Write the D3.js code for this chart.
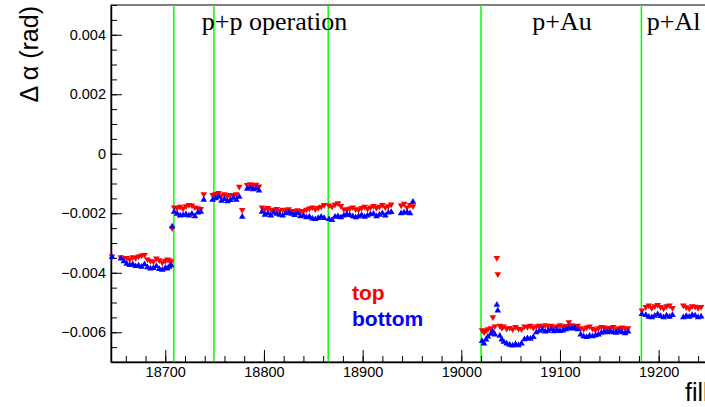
<!DOCTYPE html>
<html>
<head>
<meta charset="utf-8">
<script src="https://cdn.jsdelivr.net/npm/d3@7"></script>
<style>
  html, body { margin: 0; padding: 0; background: #fff; overflow: hidden; }
  svg { display: block; }
</style>
</head>
<body>
<div id="my_dataviz"></div>
<script>
// fill numbers and the two alignment series (values in mrad)
var fills = [
  18646, 18655, 18658, 18661, 18664, 18667, 18670, 18673, 18676, 18679, 18682, 18685, 18688, 18691, 18694, 18697, 18700, 18702, 18704, 18706,
  18707, 18709, 18712, 18715, 18718, 18721, 18724, 18727, 18730, 18733, 18736, 18739,
  18748, 18751, 18754, 18757, 18760, 18763, 18766, 18769, 18772, 18775, 18778, 18783, 18786, 18789, 18792, 18795,
  18798, 18801, 18804, 18807, 18810, 18813, 18816, 18819, 18822, 18825, 18828, 18831, 18834, 18837, 18840, 18843, 18846, 18849, 18852, 18855, 18858, 18861,
  18866, 18869, 18872, 18875, 18878, 18881, 18884, 18887, 18890, 18893, 18896, 18899, 18902, 18905, 18908, 18911, 18914, 18917, 18920, 18923, 18926, 18929,
  18939, 18942, 18945, 18948, 18951,
  19021, 19023, 19025, 19027, 19030, 19032, 19034, 19036, 19037, 19039, 19041, 19043, 19046, 19049, 19052, 19055, 19058, 19061, 19064, 19067, 19070, 19073,
  19076, 19079, 19082, 19085, 19088, 19091, 19094, 19097, 19100, 19103, 19106, 19109, 19112, 19115, 19118, 19121, 19124, 19127, 19130, 19133, 19136, 19139,
  19142, 19145, 19148, 19151, 19154, 19157, 19160, 19163, 19166, 19169,
  19183, 19187, 19190, 19193, 19196, 19199, 19202, 19205, 19208, 19211, 19214, 19225, 19228, 19231, 19234, 19237, 19240, 19243
];
var topAlign = [
  -3.45, -3.48, -3.52, -3.50, -3.55, -3.48, -3.50, -3.45, -3.42, -3.40, -3.55, -3.60, -3.62, -3.52, -3.58, -3.65, -3.60, -3.55, -3.58, -3.62,
  -2.50, -1.80, -1.82, -1.78, -1.84, -1.76, -1.72, -1.74, -1.80, -1.83, -1.85, -1.36,
  -1.38, -1.35, -1.32, -1.40, -1.36, -1.42, -1.38, -1.40, -1.36, -1.11, -1.89, -1.05, -1.02, -1.06, -1.04, -1.10,
  -1.80, -1.86, -1.82, -1.88, -1.90, -1.85, -1.92, -1.88, -1.90, -1.86, -1.92, -1.94, -1.90, -1.95, -1.92, -1.88, -1.84, -1.80, -1.86, -1.82, -1.78, -1.72,
  -1.74, -1.78, -1.70, -1.66, -1.75, -1.86, -1.89, -1.84, -1.80, -1.86, -1.88, -1.82, -1.78, -1.85, -1.80, -1.75, -1.82, -1.78, -1.72, -1.80, -1.76, -1.70,
  -1.74, -1.68, -1.80, -1.72, -1.76,
  -5.93, -6.00, -5.95, -5.90, -5.86, -5.49, -5.80, -3.50, -4.05, -5.78, -5.85, -5.80, -5.88, -5.85, -5.90, -5.82, -5.88, -5.90, -5.80, -5.82, -5.78, -5.85,
  -5.80, -5.78, -5.82, -5.76, -5.80, -5.78, -5.83, -5.80, -5.76, -5.82, -5.79, -5.66, -5.76, -5.80, -5.78, -5.86, -5.90, -5.84, -5.80, -5.88, -5.92, -5.86,
  -5.82, -5.84, -5.88, -5.85, -5.82, -5.90, -5.86, -5.84, -5.88, -5.86,
  -5.27, -5.15, -5.10, -5.18, -5.12, -5.08, -5.15, -5.20, -5.12, -5.10, -5.18, -5.10, -5.16, -5.20, -5.12, -5.14, -5.18, -5.15
];
var bottomAlign = [
  -3.47, -3.52, -3.62, -3.70, -3.74, -3.72, -3.78, -3.76, -3.80, -3.72, -3.82, -3.86, -3.84, -3.78, -3.88, -3.90, -3.84, -3.86, -3.80, -3.75,
  -2.45, -1.95, -2.02, -2.08, -2.06, -2.04, -2.08, -2.02, -2.10, -1.98, -1.95, -1.55,
  -1.55, -1.50, -1.45, -1.58, -1.52, -1.60, -1.56, -1.48, -1.55, -1.45, -2.12, -1.18, -1.14, -1.20, -1.16, -1.24,
  -1.95, -2.05, -2.00, -2.08, -1.98, -2.02, -2.05, -2.08, -2.00, -1.98, -2.02, -2.06, -2.00, -2.10, -2.08, -2.14, -2.12, -2.18, -2.20, -2.16, -2.12, -2.16,
  -2.20, -2.23, -2.12, -2.10, -2.14, -2.08, -2.04, -2.06, -2.10, -2.14, -2.10, -2.06, -2.12, -2.08, -2.04, -2.02, -2.10, -2.05, -2.00, -2.08, -1.98, -1.96,
  -2.00, -1.98, -1.97, -2.00, -1.62,
  -6.30, -6.38, -6.25, -6.15, -6.05, -5.98, -6.08, -5.08, -5.27, -6.12, -6.25, -6.32, -6.38, -6.42, -6.45, -6.40, -6.44, -6.38, -6.24, -6.20, -6.22, -6.16,
  -6.00, -5.95, -5.92, -5.98, -5.95, -5.90, -5.97, -5.92, -5.96, -5.94, -5.90, -5.85, -5.88, -5.86, -5.90, -6.08, -6.14, -6.16, -6.12, -6.14, -6.10, -6.08,
  -6.02, -5.98, -6.00, -5.96, -6.00, -6.02, -5.96, -6.00, -6.04, -5.98,
  -5.39, -5.42, -5.48, -5.50, -5.45, -5.40, -5.46, -5.50, -5.44, -5.48, -5.42, -5.50, -5.46, -5.48, -5.42, -5.44, -5.50, -5.47
];

// run boundaries (green lines) and period labels
var separators = [18708.7, 18749.3, 18865.1, 19020.0, 19182.5];
var periodNames = ["p+p operation", "p+Au", "p+Al"];
var periodFills = [18737, 19072, 19188];

// axis ticks
var xTicks = [18700, 18800, 18900, 19000, 19100, 19200];
var yTicks = [-6, -4, -2, 0, 2, 4];
var yTickLabels = ["\u22120.006", "\u22120.004", "\u22120.002", "0", "0.002", "0.004"];

var legendNames = ["top", "bottom"];
var legendColors = ["#ff0000", "#0000ff"];

function createChart() {
	var width = 705, height = 407;
	var frame = { left: 111, right: 708, top: 5, bottom: 362 };

	var svg = d3.select("#my_dataviz")
		.append("svg")
		.attr("width", width)
		.attr("height", height)
		.style("font-family", "'Liberation Sans', Arial, sans-serif");

	var x = d3.scaleLinear().domain([18645, 19250]).range([frame.left, frame.right]);
	var y = d3.scaleLinear().domain([-7, 5]).range([frame.bottom, frame.top]);

	// rahmen
	svg.append("rect")
		.attr("x", frame.left).attr("y", frame.top)
		.attr("width", frame.right - frame.left)
		.attr("height", frame.bottom - frame.top)
		.attr("fill", "none").attr("stroke", "#000").attr("stroke-width", 1);

	// gruene Linien
	svg.selectAll("line.sep")
		.data(separators)
		.enter().append("line")
		.attr("class", "sep")
		.attr("x1", function(d) { return x(d); })
		.attr("x2", function(d) { return x(d); })
		.attr("y1", frame.top).attr("y2", frame.bottom)
		.attr("stroke", "#00ff00").attr("stroke-width", 1.5);

	// X Achse (major + minor ticks inside)
	var xMinor = d3.range(18660, 19250, 20);
	svg.append("g")
		.attr("transform", "translate(0," + frame.bottom + ")")
		.call(d3.axisBottom(x).tickValues(xMinor).tickSizeInner(-6).tickSizeOuter(0).tickFormat(""))
		.call(function(g) { g.select(".domain").remove(); });
	svg.append("g")
		.attr("transform", "translate(0," + frame.bottom + ")")
		.call(d3.axisBottom(x).tickValues(xTicks).tickSizeInner(-12).tickSizeOuter(0).tickPadding(5).tickFormat(d3.format("d")))
		.call(function(g) {
			g.select(".domain").attr("stroke-width", 1.5);
			g.selectAll("text").style("font-size", "14.5px").attr("fill", "#000");
		});

	// Y Achse
	var yMinor = d3.range(-7, 5.01, 0.5);
	svg.append("g")
		.attr("transform", "translate(" + frame.left + ",0)")
		.call(d3.axisLeft(y).tickValues(yMinor).tickSizeInner(-6).tickSizeOuter(0).tickFormat(""))
		.call(function(g) { g.select(".domain").remove(); });
	svg.append("g")
		.attr("transform", "translate(" + frame.left + ",0)")
		.call(d3.axisLeft(y).tickValues(yTicks).tickSizeInner(-11).tickSizeOuter(0).tickPadding(5)
			.tickFormat(function(d, i) { return yTickLabels[i]; }))
		.call(function(g) {
			g.select(".domain").attr("stroke-width", 1.5);
			g.selectAll("text").style("font-size", "14.5px").attr("fill", "#000");
		});

	// Achsentitel
	svg.append("text")
		.attr("transform", "translate(38," + (frame.top + 1) + ")rotate(-90)")
		.attr("text-anchor", "end")
		.style("font-size", "25px")
		.text("\u0394 \u03b1 (rad)");
	svg.append("text")
		.attr("x", 685).attr("y", 401)
		.style("font-size", "25px")
		.text("fill");

	// Punkte
	var pts = fills.map(function(f, i) { return { f: f, t: topAlign[i], b: bottomAlign[i] }; });
	var tri = d3.symbol().type(d3.symbolTriangle).size(19);

	svg.selectAll("path.top")
		.data(pts)
		.enter().append("path")
		.attr("class", "top")
		.attr("d", tri)
		.attr("transform", function(d) { return "translate(" + x(d.f) + "," + y(d.t) + ")rotate(180)"; })
		.attr("fill", legendColors[0]);

	svg.selectAll("path.bottom")
		.data(pts)
		.enter().append("path")
		.attr("class", "bottom")
		.attr("d", tri)
		.attr("transform", function(d) { return "translate(" + x(d.f) + "," + y(d.b) + ")"; })
		.attr("fill", legendColors[1]);

	// Perioden
	svg.selectAll("text.period")
		.data(periodNames)
		.enter().append("text")
		.attr("class", "period")
		.attr("x", function(d, i) { return x(periodFills[i]); })
		.attr("y", 30)
		.style("font-family", "'Liberation Serif', 'Times New Roman', serif")
		.style("font-size", "26px")
		.text(function(d) { return d; });

	// Legende
	svg.selectAll("text.legend")
		.data(legendNames)
		.enter().append("text")
		.attr("class", "legend")
		.attr("x", 352)
		.attr("y", function(d, i) { return 300 + i * 26; })
		.style("font-size", "21px")
		.style("font-weight", "bold")
		.attr("fill", function(d, i) { return legendColors[i]; })
		.text(function(d) { return d; });
}

createChart();
</script>
</body>
</html>
